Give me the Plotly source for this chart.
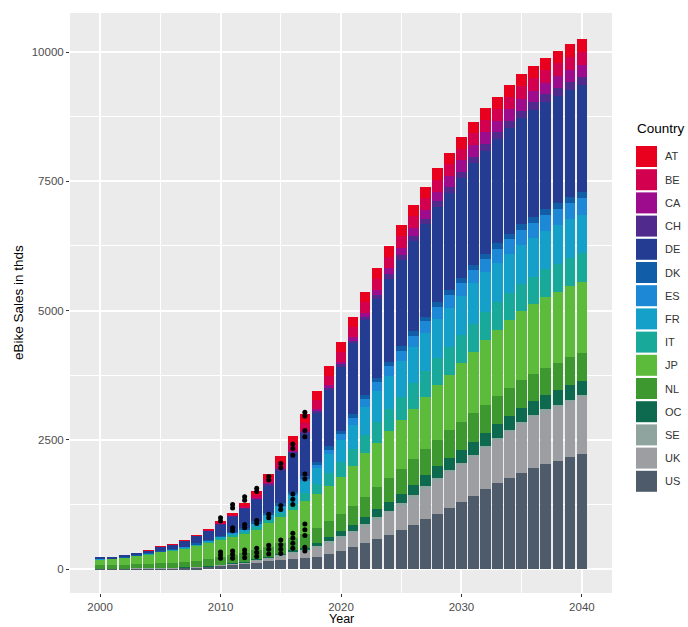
import plotly.graph_objects as go

# ---- data (thousand units per year) ----
years = list(range(2000, 2041))

countries = ["AT", "BE", "CA", "CH", "DE", "DK", "ES", "FR",
             "IT", "JP", "NL", "OC", "SE", "UK", "US"]

country_colors = ["#E8001E", "#D2004F", "#9C0C8C", "#502A8C", "#243D92",
                  "#115DA7", "#1C88D6", "#14A0C8", "#19A99B", "#5CBB3B",
                  "#3D992F", "#0E6A4F", "#8FA39F", "#9C9EA2", "#4E5B6B"]

sales_AT = [0, 0, 0, 0, 1, 2, 3, 5, 8, 12,
            20, 30, 55, 75, 100, 125, 150, 175, 185, 190,
            193, 200, 206, 210, 214, 217, 220, 222, 224, 225,
            226, 226, 228, 229, 230, 231, 232, 234, 235, 236, 238]
sales_BE = [0, 0, 0, 0, 0, 1, 2, 3, 5, 7,
            10, 20, 38, 60, 80, 105, 130, 155, 170, 182,
            193, 200, 205, 210, 214, 218, 221, 223, 224, 225,
            226, 226, 230, 234, 238, 242, 245, 249, 252, 255, 258]
sales_CA = [0, 0, 0, 0, 0, 0, 0, 0, 0, 0,
            5, 6, 7, 8, 10, 12, 14, 15, 25, 35,
            45, 60, 80, 100, 120, 140, 158, 175, 190, 203,
            215, 226, 226, 226, 226, 226, 226, 226, 226, 226, 226]
sales_CH = [0, 0, 0, 0, 1, 1, 2, 3, 4, 5,
            10, 12, 15, 20, 25, 35, 40, 45, 47, 49,
            50, 55, 65, 75, 85, 93, 100, 107, 113, 118,
            124, 129, 133, 137, 141, 145, 149, 152, 155, 158, 161]
sales_DE = [30, 32, 40, 50, 62, 78, 92, 115, 145, 180,
            225, 300, 370, 430, 540, 640, 740, 810, 950, 1100,
            1238, 1370, 1450, 1530, 1610, 1680, 1740, 1790, 1840, 1885,
            1930, 1966, 1990, 2010, 2040, 2055, 2058, 2060, 2070, 2068, 2063]
sales_DK = [2, 2, 3, 3, 4, 5, 7, 9, 12, 15,
            20, 23, 26, 33, 40, 43, 46, 50, 55, 62,
            70, 73, 76, 78, 80, 85, 87, 89, 91, 93,
            95, 97, 100, 104, 108, 112, 116, 120, 123, 126, 129]
sales_ES = [0, 0, 0, 0, 0, 1, 1, 2, 2, 3,
            5, 7, 9, 12, 15, 22, 30, 50, 65, 90,
            110, 135, 155, 175, 190, 205, 215, 225, 235, 245,
            252, 258, 265, 272, 280, 288, 295, 303, 310, 316, 322]
sales_FR = [2, 2, 3, 3, 4, 6, 8, 10, 13, 16,
            20, 27, 35, 55, 75, 110, 160, 230, 300, 360,
            419, 470, 530, 590, 640, 680, 710, 735, 750, 765,
            770, 774, 770, 765, 760, 755, 750, 748, 745, 742, 741]
sales_IT = [3, 3, 4, 5, 6, 8, 10, 13, 16, 20,
            25, 32, 40, 57, 70, 95, 120, 160, 200, 245,
            290, 322, 360, 400, 430, 460, 485, 505, 520, 530,
            540, 545, 540, 535, 530, 530, 530, 537, 540, 545, 548]
sales_JP = [117, 120, 139, 164, 189, 218, 233, 258, 288, 320,
            352, 370, 385, 400, 452, 488, 537, 633, 664, 693,
            732, 779, 837, 867, 909, 946, 981, 1003, 1059, 1080,
            1134, 1194, 1248, 1281, 1303, 1332, 1347, 1367, 1379, 1378, 1374]
sales_NL = [65, 68, 72, 78, 85, 92, 100, 110, 120, 130,
            140, 150, 160, 175, 190, 210, 240, 260, 280, 300,
            320, 360, 395, 425, 450, 470, 490, 505, 520, 530,
            540, 548, 545, 540, 538, 535, 532, 530, 530, 540, 540]
sales_OC = [0, 0, 0, 0, 0, 0, 1, 1, 2, 2,
            3, 5, 7, 10, 15, 22, 30, 40, 60, 80,
            97, 116, 135, 155, 175, 190, 205, 218, 228, 237,
            245, 250, 258, 265, 270, 273, 275, 277, 278, 279, 280]
sales_SE = [0, 0, 0, 0, 1, 1, 1, 2, 2, 3,
            5, 7, 10, 14, 20, 28, 35, 45, 48, 50,
            50, 50, 50, 50, 50, 49, 48, 47, 46, 45,
            43, 42, 42, 42, 42, 42, 42, 42, 42, 42, 42]
sales_UK = [2, 2, 2, 3, 3, 4, 5, 6, 8, 10,
            15, 20, 25, 40, 55, 80, 100, 120, 160, 200,
            240, 270, 320, 370, 420, 470, 530, 590, 640, 690,
            725, 760, 795, 840, 900, 941, 986, 1019, 1044, 1076, 1102]
sales_US = [5, 6, 7, 9, 11, 14, 18, 24, 32, 45,
            60, 80, 100, 125, 150, 170, 200, 210, 240, 290,
            350, 420, 500, 580, 660, 750, 850, 960, 1070, 1180,
            1290, 1410, 1540, 1655, 1755, 1860, 1945, 2025, 2095, 2160, 2220]

# observed historic figures overlaid as points
obs_year = [2010] * 5 + [2011] * 7 + [2012] * 7 + [2013] * 7 + [2014] * 7 \
    + [2015] * 8 + [2016] * 10 + [2017] * 11
obs_value = [990, 930, 330, 270, 210,
             1250, 1180, 800, 740, 350, 280, 210,
             1400, 1330, 860, 800, 370, 300, 220,
             1560, 1500, 940, 880, 400, 320, 240,
             1790, 1720, 1060, 990, 460, 380, 290,
             2040, 1960, 1230, 1150, 560, 470, 380, 300,
             2420, 2330, 2200, 1450, 1350, 1250, 690, 600, 500, 400,
             3030, 2960, 2680, 2560, 1840, 1740, 870, 760, 650, 420, 350]

y_ticks = [0, 2500, 5000, 7500, 10000]
y_minor = [1250, 3750, 6250, 8750]
x_ticks = [2000, 2010, 2020, 2030, 2040]
x_minor = [2005, 2015, 2025, 2035]

series = {
    "AT": sales_AT, "BE": sales_BE, "CA": sales_CA, "CH": sales_CH,
    "DE": sales_DE, "DK": sales_DK, "ES": sales_ES, "FR": sales_FR,
    "IT": sales_IT, "JP": sales_JP, "NL": sales_NL, "OC": sales_OC,
    "SE": sales_SE, "UK": sales_UK, "US": sales_US,
}
color_of = dict(zip(countries, country_colors))

# ---- figure geometry ----
W, H = 688, 627
L, R, T, B = 70, 76, 13, 34
PW, PH = W - L - R, H - T - B


def px_x(px):
    return (px - L) / PW


def px_y(py):
    return (H - B - py) / PH


FONT = "Liberation Sans, Arial, Helvetica, sans-serif"

fig = go.Figure()

# stacked bars: first trace sits at the bottom, so US goes first
for c in reversed(countries):
    fig.add_bar(x=years, y=series[c], name=c, width=0.88,
                marker=dict(color=color_of[c], line=dict(width=0)),
                showlegend=False)

fig.add_scatter(x=obs_year, y=obs_value, mode="markers",
                marker=dict(color="black", size=5, line=dict(width=0)),
                showlegend=False)

shapes = []
annotations = []

# legend drawn as filled keys with labels
LEG_TOP = 156.5
LEG_STEP = 23.2
for i, c in enumerate(countries):
    cy = LEG_TOP + i * LEG_STEP
    shapes.append(dict(type="rect", xref="paper", yref="paper",
                       x0=px_x(636), x1=px_x(657),
                       y0=px_y(cy + 10.5), y1=px_y(cy - 10.5),
                       fillcolor=color_of[c], line=dict(width=0)))
    annotations.append(dict(x=px_x(663), y=px_y(cy), xref="paper", yref="paper",
                            text=c, showarrow=False, xanchor="left",
                            yanchor="middle",
                            font=dict(family=FONT, size=11, color="#333333")))

annotations.append(dict(x=px_x(635), y=px_y(129), xref="paper", yref="paper",
                        text="Country", showarrow=False, xanchor="left",
                        yanchor="middle",
                        font=dict(family=FONT, size=13.5, color="#000000")))

annotations.append(dict(x=0.5, y=px_y(627), xref="paper", yref="paper",
                        text="Year", showarrow=False, xanchor="center",
                        yanchor="bottom", borderpad=0,
                        font=dict(family=FONT, size=12.5, color="#000000")))

annotations.append(dict(x=px_x(18), y=0.5, xref="paper", yref="paper",
                        text="eBike Sales in thds", showarrow=False,
                        textangle=-90, xanchor="center", yanchor="middle",
                        font=dict(family=FONT, size=13.5, color="#000000")))

fig.update_layout(
    width=W, height=H, autosize=False,
    margin=dict(l=L, r=R, t=T, b=B, pad=0, autoexpand=False),
    paper_bgcolor="white", plot_bgcolor="#EBEBEB",
    barmode="stack", bargap=0,
    font=dict(family=FONT),
    shapes=shapes, annotations=annotations,
    showlegend=False,
)

fig.update_xaxes(
    range=[1997.5, 2042.5], tickvals=x_ticks,
    ticktext=[str(v) for v in x_ticks],
    ticks="outside", ticklen=3, tickwidth=1, tickcolor="#333333",
    tickfont=dict(family=FONT, size=11.5, color="#4D4D4D"),
    showgrid=True, gridcolor="white", gridwidth=1.6,
    zeroline=False, showline=False, automargin=False,
    minor=dict(tickvals=x_minor, showgrid=True, gridcolor="white",
               gridwidth=0.8, ticks=""),
)

fig.update_yaxes(
    range=[-464, 10755], tickvals=y_ticks,
    ticktext=[str(v) for v in y_ticks],
    ticks="outside", ticklen=3, tickwidth=1, tickcolor="#333333",
    tickfont=dict(family=FONT, size=11.5, color="#4D4D4D"),
    showgrid=True, gridcolor="white", gridwidth=1.6,
    zeroline=False, showline=False, automargin=False,
    minor=dict(tickvals=y_minor, showgrid=True, gridcolor="white",
               gridwidth=0.8, ticks=""),
)

fig.write_html("out.html")
